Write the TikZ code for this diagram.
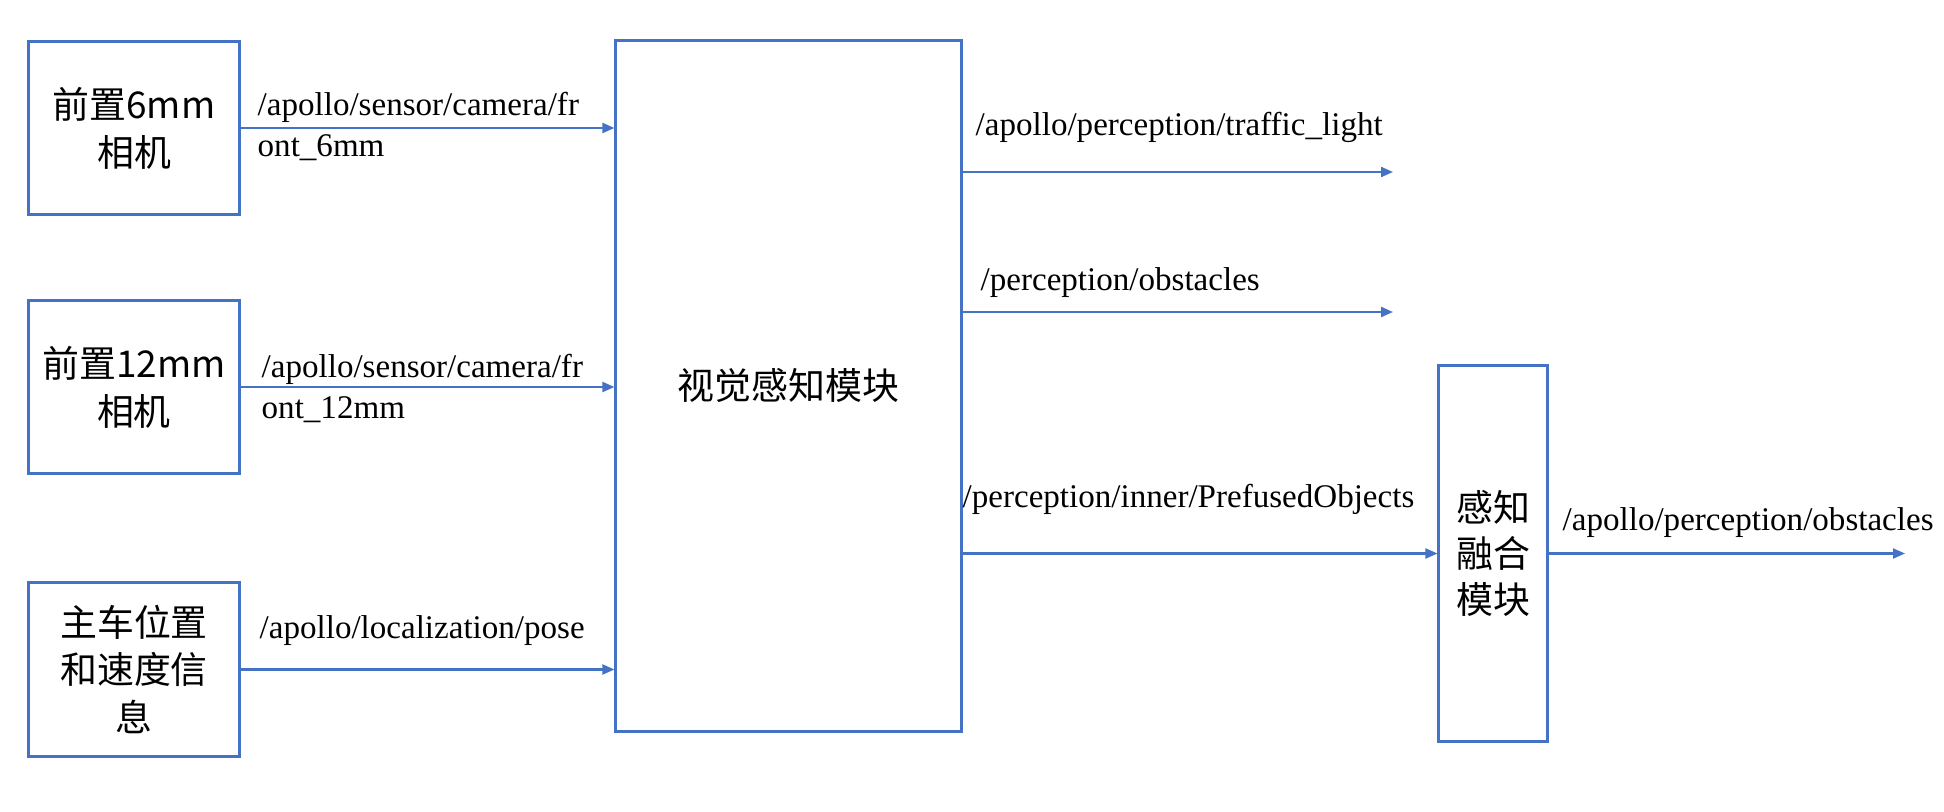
\documentclass[tikz,border=0pt]{standalone}
\usepackage{fontspec}
\setmainfont{Liberation Serif}
\newfontfamily\cjk{Noto Sans CJK SC}
\usetikzlibrary{positioning, arrows.meta}
\definecolor{officeblue}{HTML}{4472C4}

\begin{document}
\begin{tikzpicture}[
x=0.01cm, y=-0.01cm,
sensorbox/.style={rectangle, draw=officeblue, line width=0.85pt, align=center, font=\cjk\fontsize{10.5}{13.6}\selectfont, minimum width=2.1cm, minimum height=1.735cm},
modulebox/.style={rectangle, draw=officeblue, line width=0.85pt, align=center, font=\cjk\fontsize{10.5}{13}\selectfont},
topic/.style={inner sep=0pt, align=left, font=\fontsize{9.4}{11.6}\selectfont},
flow/.style={draw=officeblue, line width=0.6pt, -{Triangle[length=0.12cm, width=0.1cm]}},
]
\useasboundingbox (0,0) rectangle (1944,812);

\node[sensorbox]      (cam6)      at (134,128)   {前置6mm\\相机};
\node[sensorbox]      (cam12)     at (134,387)   {前置12mm\\相机};
\node[sensorbox]      (egopose)   at (134,669.5) {主车位置\\和速度信\\息};
\node[modulebox, minimum width=3.45cm, minimum height=6.9cm]  (vision) at (788.5,386)  {视觉感知模块};
\node[modulebox, minimum width=1.08cm, minimum height=3.75cm]  (fusion) at (1493,553.5) {感知\\融合\\模块};

\coordinate (tlend)    at (1393,172);
\coordinate (obsend)   at (1393,312);
\coordinate (finalend) at (1905,553.5);

%Topics
\node[topic, anchor=north west] (cam6topic)  at (257,92)  {/apollo/sensor/camera/fr\\ont\_6mm};
\node[topic, anchor=north west] (cam12topic) at (261,354) {/apollo/sensor/camera/fr\\ont\_12mm};
\node[topic, anchor=base west]  (posetopic)  at (259,638) {/apollo/localization/pose};
\node[topic, anchor=base west]  (tltopic)    at (975,135) {/apollo/perception/traffic\_light};
\node[topic, anchor=base west]  (obstopic)   at (980,290) {/perception/obstacles};
\node[topic, anchor=base west]  (prefusedtopic) at (962,507) {/perception/inner/PrefusedObjects};
\node[topic, anchor=base west]  (fusedtopic) at (1562,530) {/apollo/perception/obstacles};

%Lines
\draw[flow] (cam6.east) -- (cam6.east -| vision.west);
\draw[flow] (cam12.east) -- (cam12.east -| vision.west);
\draw[flow] (egopose.east) -- (egopose.east -| vision.west);
\draw[flow] (vision.east |- tlend) -- (tlend);
\draw[flow] (vision.east |- obsend) -- (obsend);
\draw[flow] (vision.east |- fusion.west) -- (fusion.west);
\draw[flow] (fusion.east) -- (finalend);
\end{tikzpicture}
\end{document}
